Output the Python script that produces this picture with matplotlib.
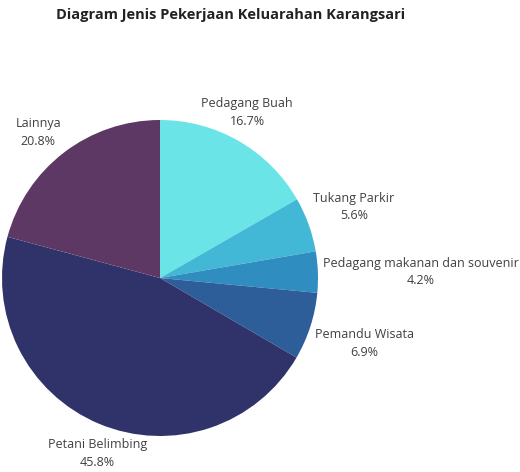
import numpy as np
import matplotlib
matplotlib.use('Agg')
import matplotlib.pyplot as plt

plt.rcParams['font.family'] = ['Open Sans', 'DejaVu Sans']

### Data
labels = ['Pedagang Buah', 'Tukang Parkir', 'Pedagang makanan dan souvenir',
          'Pemandu Wisata', 'Petani Belimbing', 'Lainnya']
values = [16.7, 5.6, 4.2, 6.9, 45.8, 20.8]
colors = ['#6be4e8', '#43b8d6', '#2f8dbf', '#2e5e99', '#30336a', '#5e3864']

#%% Figure in pixel coordinates (y up)
fig = plt.figure(figsize=(5.2, 4.72), dpi=100)
ax = fig.add_axes([0, 0, 1, 1])

cx, cy, R = 160, 472 - 278, 158
wedges, _ = ax.pie(values, colors=colors, startangle=90, counterclock=False,
                   center=(cx, cy), radius=R, frame=True,
                   wedgeprops=dict(linewidth=0))
ax.set_xlim(0, 520)
ax.set_ylim(0, 472)
ax.set_aspect('equal')
ax.axis('off')

#%% Outside labels
for w, lab, v in zip(wedges, labels, values):
    ang = np.deg2rad((w.theta1 + w.theta2) / 2)
    c, s = np.cos(ang), np.sin(ang)
    ha = 'left' if c > 0.55 else ('right' if c < -0.55 else 'center')
    va = 'bottom' if s > 0.3 else ('top' if s < -0.3 else 'center')
    rx = R * (1.1 if ha == 'center' and c > 0 else 1.03)
    ry = R * (1.1 if abs(s) > 0.8 else 1.04)
    ax.text(cx + rx * c, cy + ry * s, f'{lab}\n{v:.1f}%', ha=ha, va=va,
            multialignment='center', fontsize=9, color='#404040',
            linespacing=1.45)

fig.text(231 / 520, 1 - 15 / 472, 'Diagram Jenis Pekerjaan Keluarahan Karangsari',
         ha='center', va='center', fontsize=10.5, fontweight='bold', color='#222222')

plt.savefig('out.png', dpi=100)
